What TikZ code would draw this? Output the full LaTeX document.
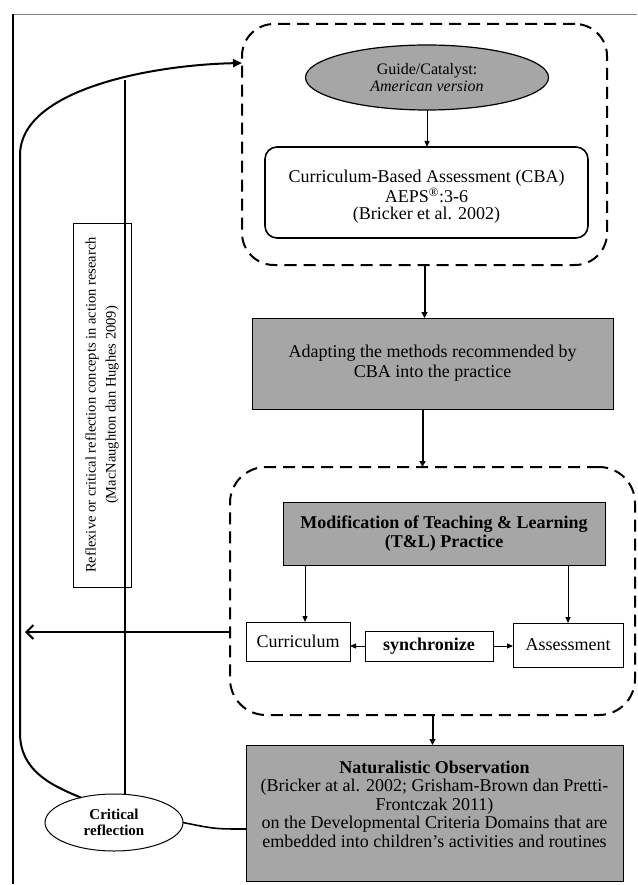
\documentclass[tikz,border=0pt]{standalone}
\usepackage{fontspec}
\setmainfont{Liberation Serif}
\usetikzlibrary{arrows.meta,shapes.geometric,calc}
\definecolor{boxgray}{RGB}{166,166,166}
\begin{document}
\begin{tikzpicture}[x=1pt,y=-1pt,
  every node/.style={inner sep=0pt, outer sep=0pt},
  main/.style={font=\fontsize{18}{18.5}\selectfont, align=center},
  dashbox/.style={draw, line width=2pt, dash pattern=on 12pt off 7pt},
  graybox/.style={draw, line width=1pt, fill=boxgray},
  whitebox/.style={draw, line width=1pt, fill=white, font=\fontsize{18}{18.5}\selectfont},
  thinarr/.style={line width=1pt, -{Triangle[length=6pt,width=5pt]}},
  thickarr/.style={line width=2pt, -{Triangle[length=6pt,width=6pt]}}]
\useasboundingbox (0,0) rectangle (637,885);
% frame
\draw[line width=0.6pt, gray] (13,14) -- (637,14);
\draw[line width=1.8pt] (13,14) -- (13,884);
% top group
\node[dashbox, minimum width=365pt, minimum height=241pt, rounded corners=32pt] (grp1) at (424.5,144.5) {};
\node[ellipse, draw, line width=1.2pt, fill=boxgray, minimum width=243pt, minimum height=65pt,
  font=\fontsize{16}{17}\selectfont, align=center] (guide) at (427,77.5) {Guide/Catalyst:\\\textit{American version}};
\node[draw, line width=1.6pt, rounded corners=12pt, minimum width=323pt, minimum height=91pt] (cba) at (426.5,192.5) {};
\node[font=\fontsize{18}{17.5}\selectfont, align=center] (cbatext) at (426.5,197) {Curriculum-Based Assessment (CBA)\\AEPS\textsuperscript{®}:3-6\\(Bricker et al. 2002)};
% adapting
\node[graybox, minimum width=361pt, minimum height=91pt, font=\fontsize{18}{20}\selectfont, align=center] (adapt) at (432.5,363.5) {Adapting the methods recommended by\\CBA into the practice};
% middle group
\node[dashbox, minimum width=405pt, minimum height=248pt, rounded corners=36pt] (grp2) at (432.5,591) {};
\node[graybox, minimum width=322pt, minimum height=63pt, font=\bfseries\fontsize{18}{19}\selectfont, align=center] (modif) at (444,533.5) {Modification of Teaching \& Learning\\(T\&L) Practice};
\node[whitebox, minimum width=104pt, minimum height=39pt] (curr) at (298,641.5) {Curriculum};
\node[whitebox, minimum width=128pt, minimum height=30pt, font=\bfseries\fontsize{18}{18.5}\selectfont] (sync) at (429,646) {synchronize};
\node[whitebox, minimum width=110pt, minimum height=44pt] (assess) at (568,645) {Assessment};
% naturalistic
\node[graybox, minimum width=377pt, minimum height=136pt] (nat) at (434.5,813) {};
\node[main] (nattext) at (434.5,804) {\textbf{Naturalistic Observation}\\(Bricker at al. 2002; Grisham-Brown dan Pretti-\\Frontczak 2011)\\on the Developmental Criteria Domains that are\\embedded into children’s activities and routines};
% critical reflection
\node[ellipse, draw, line width=1pt, fill=white, minimum width=138pt, minimum height=57pt,
  font=\bfseries\fontsize{15}{16}\selectfont, align=center] (crit) at (114,822.5) {Critical\\reflection};
% reflexive box
\node[draw, line width=0.8pt, minimum width=58pt, minimum height=364pt] (refl) at (102,405) {};
\node[rotate=90, font=\fontsize{14.5}{20}\selectfont, align=center] (refltext) at (102,405) {Reflexive or critical reflection concepts in action research\\(MacNaughton dan Hughes 2009)};
% connectors
\draw[thinarr] (guide.south) -- (guide.south |- cba.north);
\draw[thickarr] (grp1.south) -- (grp1.south |- adapt.north);
\draw[thickarr] ([xshift=-10pt]adapt.south) -- ([xshift=-10pt]adapt.south |- grp2.north);
\draw[thinarr] ([xshift=7pt]curr.north |- modif.south) -- ([xshift=7pt]curr.north);
\draw[thinarr] (assess.north |- modif.south) -- (assess.north);
\draw[thinarr] (sync.west) -- (sync.west -| curr.east);
\draw[thinarr] (sync.east) -- (sync.east -| assess.west);
\coordinate (ltip) at (25,632);
\draw[line width=2pt, -{Straight Barb[length=7pt,width=14pt]}] (ltip -| grp2.west) -- (ltip);
\draw[thickarr] (grp2.south) -- (grp2.south |- nat.north);
\draw[line width=1.6pt] (crit.east) .. controls (215,829) .. ([yshift=-16pt]nat.west);
\coordinate (vtop) at (125,80);
\draw[line width=2pt] (vtop) -- (vtop |- crit.north);
\coordinate (ctip) at (242,63);
\draw[line width=2pt, -{Triangle[length=9pt,width=8pt]}] (crit.143) .. controls (50,785) and (20,770) .. (20,733) -- (20,155) .. controls (20,90) and (150,65) .. (ctip);
\end{tikzpicture}
\end{document}
